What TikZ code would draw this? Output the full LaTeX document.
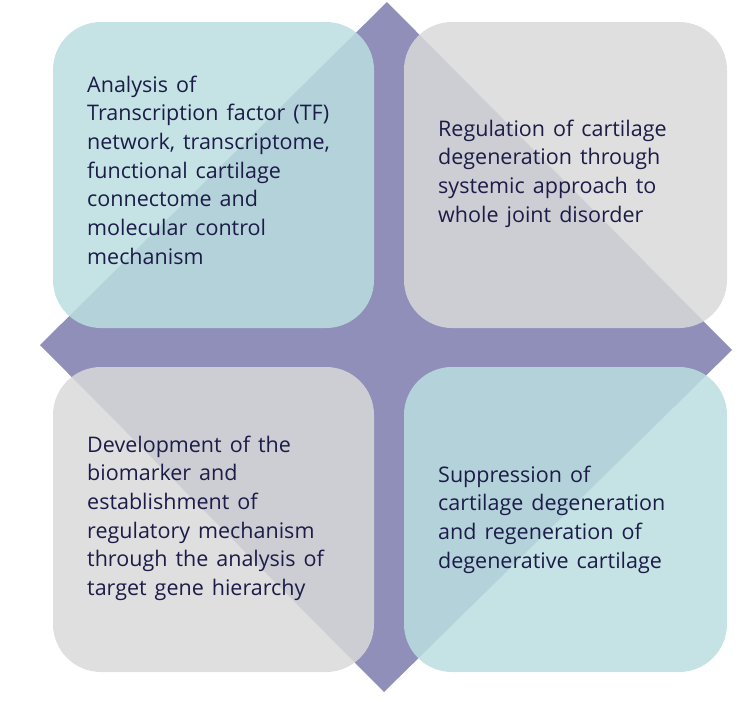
\documentclass[tikz,border=0pt]{standalone}
\usepackage{fontspec}
\setmainfont{Open Sans}
\definecolor{diam}{RGB}{143,143,186}
\definecolor{tealbox}{RGB}{187,222,224}
\definecolor{graybox}{RGB}{217,217,217}
\definecolor{txt}{RGB}{28,28,72}
\newcommand{\labfont}{\fontsize{21.5}{28.7}\selectfont\spaceskip=8pt plus 2pt\relax}
\tikzset{
  quad/.style={rounded corners=48pt, fill opacity=0.85, draw=none},
  label/.style={anchor=north west, inner sep=0pt, align=left, text=txt,
    font={\labfont}},
}
\begin{document}
\begin{tikzpicture}[x=1pt,y=-1pt]
\useasboundingbox (0,0) rectangle (745,702);
\fill[diam] (387,2) -- (732,350) -- (384,692) -- (40,345) -- cycle;
\fill[quad, tealbox] (53,22) rectangle (374,328);
\fill[quad, graybox] (404,22) rectangle (727,328);
\fill[quad, graybox] (53,367) rectangle (374,672);
\fill[quad, tealbox] (404,367) rectangle (727,672);
\node[label] (tl) at (87,75.5) {Analysis of\\Transcription factor (TF)\\network, transcriptome,\\functional cartilage\\connectome and\\molecular control\\mechanism};
\node[label] (tr) at (438,119.5) {Regulation of cartilage\\degeneration through\\systemic approach to\\whole joint disorder};
\node[label] (bl) at (87,435.5) {Development of the\\biomarker and\\establishment of\\regulatory mechanism\\through the analysis of\\target gene hierarchy};
\node[label] (br) at (438,465.5) {Suppression of\\cartilage degeneration\\and regeneration of\\degenerative cartilage};
\end{tikzpicture}
\end{document}
